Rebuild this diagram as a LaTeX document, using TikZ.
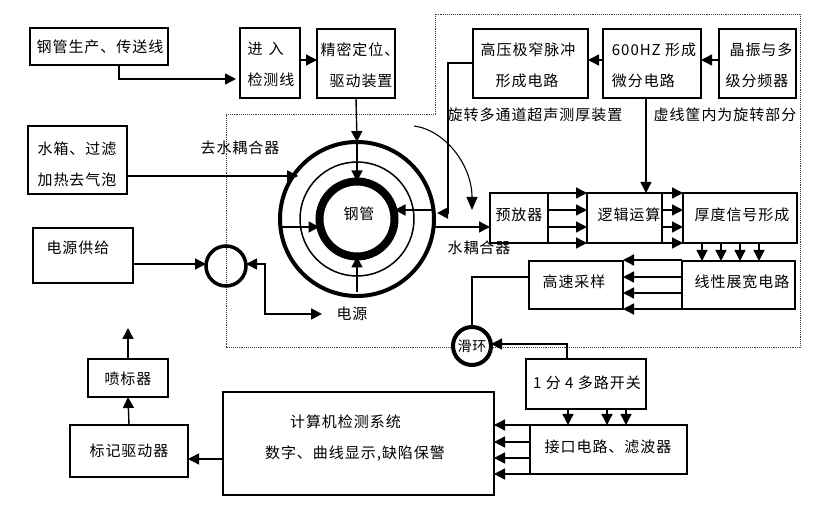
\documentclass[tikz,border=0pt]{standalone}
\usepackage{fontspec}
\setmainfont[LetterSpace=6.5]{Noto Sans CJK SC}
\usetikzlibrary{arrows.meta,calc}
\tikzset{
  x=1pt,y=-1pt,
  box/.style={draw=black,line width=1.8pt,fill=white,inner sep=0pt,outer sep=0pt},
  txt/.style={font=\fontsize{15}{16}\selectfont,inner sep=0pt,outer sep=0pt,text=black},
  arr/.style={line width=1.4pt,draw=black,-{Triangle[length=11pt,width=11pt]}},
  arrbig/.style={line width=2pt,draw=black,-{Triangle[length=11pt,width=11pt]}},
  arrboth/.style={line width=1.7pt,draw=black,{Triangle[length=11pt,width=11pt]}-{Triangle[length=11pt,width=11pt]}},
  plain/.style={line width=1.6pt,draw=black},
  frameline/.style={draw=black!75,line width=0.9pt,densely dotted},
  ring/.style={circle,draw=black,inner sep=0pt,outer sep=0pt},
}
% name, x1, y1, x2, y2, text x, text y, text
\newcommand\bx[8]{%
  \pgfmathsetmacro\bw{#4-#2}\pgfmathsetmacro\bh{#5-#3}%
  \pgfmathsetmacro\cx{(#4+#2)/2}\pgfmathsetmacro\cy{(#5+#3)/2}%
  \node[box,minimum width=\bw pt,minimum height=\bh pt] (#1) at (\cx,\cy) {};
  \node[txt,align=left] (#1-t) at (#6,#7) {#8};
}
\begin{document}
\begin{tikzpicture}
\useasboundingbox (0,0) rectangle (820,526);
% rotating-part frame
\coordinate (f1) at (226,114); \coordinate (f2) at (435,114); \coordinate (f3) at (435,14);
\coordinate (f4) at (800,14); \coordinate (f5) at (800,347); \coordinate (f6) at (226,347);
\draw[frameline] (f1) -- (f2) -- (f3) -- (f4) -- (f5) -- (f6) -- cycle;

\bx{line}{30}{28}{168}{65}{100}{47}{钢管生产、传送线}
\bx{enter}{240}{28}{300}{98}{271}{64}{进\hspace{6pt}入\\[15pt]检测线}
\bx{drive}{317}{29}{395}{98}{360}{65}{精密定位、\\[15pt]\hspace*{9pt}驱动装置}
\bx{water}{28}{126}{127}{194}{77}{164}{水箱、过滤\\[15pt]加热去气泡}
\bx{supply}{33}{228}{133}{283}{78}{248}{电源供给}
\bx{jet}{88}{359}{168}{397}{128}{379}{喷标器}
\bx{mark}{70}{425}{188}{477}{129}{451}{标记驱动器}
\bx{pc}{223}{392}{494}{495}{355}{438}{\hspace*{25pt}计算机检测系统\\[15pt]数字、曲线显示,缺陷保警}
\bx{hv}{473}{29}{588}{98}{528}{65}{高压极窄脉冲\\[15pt]\hspace*{15pt}形成电路}
\bx{hz}{603}{29}{701}{98}{654}{65}{600HZ 形成\\[15pt]微分电路}
\bx{osc}{719}{29}{796}{98}{759}{65}{\hspace*{4pt}晶振与多\\[15pt]级分频器}
\bx{pre}{490}{193}{548}{243}{519}{215}{预放器}
\bx{logic}{587}{193}{662}{243}{629}{215}{逻辑运算}
\bx{thick}{683}{193}{797}{243}{742}{215}{厚度信号形成}
\bx{adc}{529}{261}{623}{309}{574}{282}{高速采样}
\bx{ramp}{682}{261}{795}{309}{742}{282}{线性展宽电路}
\bx{mux}{526}{359}{646}{409}{587}{383}{1 分 4 多路开关}
\bx{port}{530}{425}{687}{474}{608}{447}{接口电路、滤波器}

% rings
\node[ring,line width=4pt,minimum size=154pt] (outer) at (357,219) {};
\node[ring,line width=1.5pt,minimum size=114pt] (inner) at (357,219) {};
\node[ring,line width=8pt,minimum size=75pt] (tube) at (357,219) {};
\node[txt] (tube-t) at (359,214) {钢管};
\node[ring,line width=3.5pt,minimum size=40pt] (small) at (226,266) {};
\node[ring,line width=4pt,minimum size=38pt,fill=white] (slip) at (472,346) {};
\node[txt,font=\fontsize{14}{16}\selectfont] (slip-t) at (472,346) {滑环};

% free labels
\node[txt] (lb1) at (240,148) {去水耦合器};
\node[txt] (lb2) at (535,115) {旋转多通道超声测厚装置};
\node[txt] (lb3) at (725,115) {虚线筐内为旋转部分};
\node[txt] (lb4) at (479,248) {水耦合器};
\node[txt] (lb5) at (352,314) {电源};

% upper connectors
\coordinate (c1) at (236,79);
\draw[arr] (line.south -| 119,0) |- (c1);
\draw[arr] (enter.east |- 0,60) -- (drive.west |- 0,60);
\draw[arr] (drive.south) -- (outer.north);
\draw[line width=1.2pt,-{Triangle[length=11pt,width=11pt]}] (outer.north) -- (tube.north);
\draw[arr,shorten >=-5pt] (water.east |- outer.146.5) -- (outer.146.5);
\draw[arr] (supply.east |- 0,264) -- (small.west |- 0,264);
\coordinate (pw) at (322,314);
\draw[arrboth] (small.east |- 0,264) -- (265,264) |- (pw);
\coordinate (hvin) at (437,213);
\draw[arrbig] (hv.west |- 0,63) -- (448,63) |- (hvin);
\draw[arr] (outer.east |- 0,210) -- (tube.east |- 0,210);
\draw[arr] (outer.west |- 0,227) -- (tube.west |- 0,227);
\draw[arr,shorten <=4pt] (outer.south) -- (tube.south);
\draw[arr] (outer.east |- 0,227) -- (pre.west |- 0,227);
\coordinate (cs) at (414,126); \coordinate (ce) at (472,210);
\draw[line width=1.1pt,-{Triangle[length=13pt,width=11pt]}] (cs) .. controls (445,130) and (472,165) .. (ce);

\draw[arr] (hz.west |- 0,60) -- (hv.east |- 0,60);
\draw[arr] (osc.west |- 0,60) -- (hz.east |- 0,60);
\draw[arr] (hz.south -| 646,0) -- (logic.north -| 646,0);

% bundles
\foreach \y in {193,210,227,243}{
  \draw[arr] (pre.east |- 0,\y) -- (logic.west |- 0,\y);
  \draw[arr] (logic.east |- 0,\y) -- (thick.west |- 0,\y);
}
\foreach \x in {702,721,740,759}{
  \draw[arr] (thick.south -| \x,0) -- (ramp.north -| \x,0);
}
\foreach \y in {260,277,293,309}{
  \draw[arr] (ramp.west |- 0,\y) -- (adc.east |- 0,\y);
}
\draw[plain] (adc.west |- 0,277) -| (slip.north);
\draw[arr] (mux.north -| 567,0) |- (slip.east |- 0,344);
\foreach \x in {568,607,626}{
  \draw[arr] (mux.south -| \x,0) -- (port.north -| \x,0);
}
\foreach \y in {425,442,458,474}{
  \draw[arr] (port.west |- 0,\y) -- (pc.east |- 0,\y);
}
\draw[arr] (pc.west |- 0,459) -- (mark.east |- 0,459);
\draw[arr] (mark.north) -- (jet.south);
\coordinate (out) at (128,328);
\draw[arr] (jet.north) -- (out);
\end{tikzpicture}
\end{document}
